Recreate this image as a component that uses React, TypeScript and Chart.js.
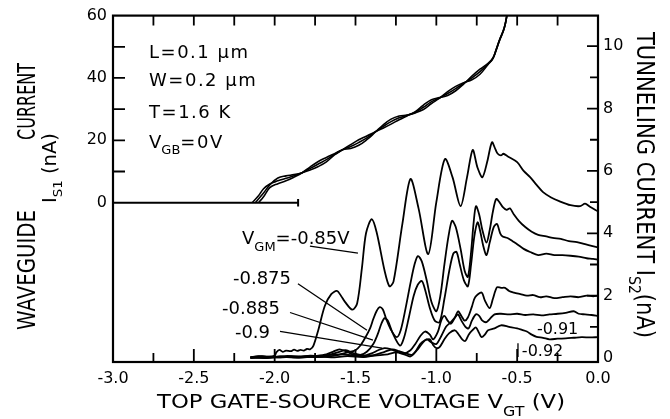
import React, { useEffect, useRef } from 'react';
import { Chart, registerables } from 'chart.js';

Chart.register(...registerables);

const FONT = 'DejaVu Sans';

// ---------- tick values ----------
const leftTickValues = [0, 20, 40, 60];
const rightTickValues = [0, 2, 4, 6, 8, 10];
const xTickMarks = [-2.75, -2.5, -2.25, -2, -1.75, -1.5, -1.25, -1, -0.75, -0.5, -0.25];
const leftTickMarks = [10, 20, 30, 40, 50];
const rightTickMarks = [1, 2, 3, 4, 5, 6, 7, 8, 9, 10];

// ---------- waveguide current I_S1 (left axis, nA) ----------
const baselineS1 = [[-3.0, 0], [-1.855, 0]];
const baselineEnd = [[-1.855, -1.2], [-1.855, 1.2]];
const upperV = [-2.07, -2.03, -1.98, -1.93, -1.88, -1.83, -1.78, -1.73, -1.68, -1.63, -1.58, -1.53, -1.48, -1.43, -1.38, -1.33, -1.28, -1.23, -1.18, -1.13, -1.08, -1.03, -0.98, -0.93, -0.88, -0.83, -0.78, -0.73, -0.68, -0.65, -0.63, -0.61, -0.58, -0.56];
const upperStartV = [-2.14, -2.12, -2.1];
const upper1 = [4.4, 6.0, 7.0, 7.8, 8.6, 9.6, 11.0, 12.4, 13.8, 15.5, 17.0, 18.0, 19.3, 20.8, 22.6, 24.4, 26.0, 27.2, 28.0, 29.0, 30.6, 32.4, 33.6, 35.0, 36.6, 38.3, 40.0, 42.0, 44.5, 46.3, 49.0, 52.0, 56.0, 61.0];
const upper2 = [3.0, 5.7, 7.9, 8.6, 9.0, 9.6, 10.5, 11.6, 13.1, 15.3, 17.0, 18.6, 20.2, 21.4, 22.7, 23.9, 25.2, 26.6, 27.9, 29.2, 31.3, 33.0, 33.7, 34.4, 35.9, 38.1, 40.6, 42.8, 44.7, 46.4, 49.1, 52.1, 56.1, 61.0];
const upper3 = [1.8, 4.8, 6.1, 7.0, 8.2, 9.6, 11.5, 13.2, 14.5, 15.7, 17.0, 17.4, 18.4, 20.2, 22.5, 24.9, 26.8, 27.8, 28.1, 28.8, 29.9, 31.8, 33.5, 35.6, 37.3, 38.5, 39.4, 41.2, 44.3, 46.2, 48.9, 51.9, 55.9, 61.0];

// ---------- tunneling current I_S2 (right axis, nA), [V_GT, I] ----------
const curveVgm085 = [[-2.15, 0.02], [-2.1, 0.06], [-2.05, 0.04], [-2.0, 0.08], [-1.99, 0.18], [-1.97, 0.26], [-1.95, 0.2], [-1.93, 0.24], [-1.9, 0.22], [-1.88, 0.27], [-1.86, 0.23], [-1.84, 0.26], [-1.82, 0.24], [-1.8, 0.29], [-1.78, 0.28], [-1.76, 0.4], [-1.73, 0.9], [-1.69, 1.67], [-1.65, 2.05], [-1.615, 2.15], [-1.59, 2.0], [-1.565, 1.8], [-1.52, 1.55], [-1.49, 1.75], [-1.46, 2.9], [-1.435, 4.0], [-1.4, 4.45], [-1.37, 4.05], [-1.32, 2.8], [-1.29, 2.3], [-1.265, 2.45], [-1.21, 4.3], [-1.16, 5.74], [-1.11, 4.8], [-1.05, 3.33], [-1.0, 5.0], [-0.947, 6.38], [-0.9, 5.8], [-0.85, 4.87], [-0.81, 5.8], [-0.775, 6.67], [-0.745, 6.1], [-0.715, 5.8], [-0.685, 6.3], [-0.656, 6.92], [-0.635, 6.7], [-0.62, 6.55], [-0.6, 6.5], [-0.585, 6.55], [-0.56, 6.47], [-0.5, 6.28], [-0.46, 6.0], [-0.42, 5.8], [-0.38, 5.55], [-0.34, 5.32], [-0.29, 5.15], [-0.24, 5.03], [-0.17, 4.9], [-0.11, 4.87], [-0.08, 4.95], [-0.05, 4.85], [0.0, 4.7]];
const curveVgm0875 = [[-2.15, 0.02], [-2.08, 0.06], [-2.0, 0.03], [-1.92, 0.07], [-1.85, 0.04], [-1.78, 0.08], [-1.72, 0.06], [-1.66, 0.1], [-1.6, 0.12], [-1.55, 0.18], [-1.5, 0.25], [-1.47, 0.4], [-1.44, 0.65], [-1.41, 0.95], [-1.39, 1.25], [-1.37, 1.5], [-1.35, 1.63], [-1.33, 1.55], [-1.31, 1.25], [-1.28, 0.9], [-1.245, 0.67], [-1.22, 0.9], [-1.19, 1.6], [-1.16, 2.4], [-1.135, 3.0], [-1.114, 3.27], [-1.09, 3.1], [-1.06, 2.5], [-1.03, 1.8], [-1.0, 1.5], [-0.975, 2.0], [-0.95, 3.0], [-0.925, 3.9], [-0.903, 4.4], [-0.88, 4.2], [-0.85, 3.5], [-0.825, 2.8], [-0.805, 2.6], [-0.785, 3.4], [-0.77, 4.3], [-0.755, 4.87], [-0.735, 4.6], [-0.715, 4.1], [-0.69, 3.7], [-0.67, 4.1], [-0.65, 4.7], [-0.63, 5.1], [-0.61, 5.0], [-0.59, 4.85], [-0.565, 4.75], [-0.545, 4.8], [-0.52, 4.6], [-0.49, 4.4], [-0.45, 4.2], [-0.41, 4.05], [-0.37, 3.95], [-0.32, 3.9], [-0.28, 3.85], [-0.23, 3.82], [-0.18, 3.75], [-0.13, 3.72], [-0.08, 3.65], [-0.04, 3.6], [0.0, 3.55]];
const curveVgm0885 = [[-2.15, 0.0], [-2.07, 0.04], [-1.98, 0.02], [-1.9, 0.06], [-1.82, 0.03], [-1.74, 0.07], [-1.68, 0.12], [-1.64, 0.2], [-1.6, 0.28], [-1.56, 0.22], [-1.52, 0.12], [-1.47, 0.1], [-1.43, 0.2], [-1.39, 0.45], [-1.36, 0.8], [-1.34, 1.1], [-1.32, 1.28], [-1.3, 1.2], [-1.27, 0.8], [-1.225, 0.4], [-1.2, 0.65], [-1.17, 1.3], [-1.14, 2.0], [-1.115, 2.35], [-1.09, 2.47], [-1.07, 2.2], [-1.04, 1.6], [-1.01, 1.2], [-0.98, 1.15], [-0.95, 1.9], [-0.92, 2.8], [-0.895, 3.35], [-0.875, 3.4], [-0.855, 3.0], [-0.83, 2.5], [-0.805, 2.3], [-0.785, 3.0], [-0.765, 3.9], [-0.745, 4.35], [-0.73, 4.1], [-0.71, 3.6], [-0.69, 3.3], [-0.67, 3.7], [-0.645, 4.2], [-0.625, 4.3], [-0.605, 4.0], [-0.59, 3.9], [-0.56, 3.85], [-0.53, 3.75], [-0.5, 3.65], [-0.46, 3.5], [-0.42, 3.4], [-0.37, 3.3], [-0.32, 3.35], [-0.27, 3.3], [-0.22, 3.3], [-0.17, 3.28], [-0.12, 3.25], [-0.07, 3.2], [-0.03, 3.18], [0.0, 3.15]];
const curveVgm09 = [[-2.15, 0.03], [-2.06, 0.0], [-1.97, 0.05], [-1.88, 0.02], [-1.8, 0.06], [-1.72, 0.04], [-1.66, 0.1], [-1.6, 0.2], [-1.56, 0.25], [-1.51, 0.15], [-1.45, 0.08], [-1.4, 0.15], [-1.36, 0.25], [-1.32, 0.32], [-1.28, 0.28], [-1.24, 0.2], [-1.2, 0.15], [-1.16, 0.25], [-1.13, 0.45], [-1.1, 0.7], [-1.07, 0.85], [-1.04, 0.75], [-1.02, 0.6], [-0.99, 0.85], [-0.97, 1.2], [-0.95, 1.35], [-0.93, 1.2], [-0.91, 1.1], [-0.885, 1.3], [-0.866, 1.5], [-0.845, 1.35], [-0.825, 1.2], [-0.805, 1.3], [-0.78, 1.65], [-0.76, 1.95], [-0.72, 2.1], [-0.7, 1.85], [-0.67, 1.6], [-0.65, 1.9], [-0.625, 2.27], [-0.6, 2.25], [-0.575, 2.25], [-0.55, 2.15], [-0.52, 2.1], [-0.48, 2.05], [-0.44, 2.0], [-0.4, 2.02], [-0.36, 1.95], [-0.32, 1.98], [-0.27, 1.92], [-0.22, 1.95], [-0.17, 1.98], [-0.12, 1.95], [-0.07, 2.0], [-0.03, 1.98], [0.0, 2.0]];
const curveVgm091 = [[-2.15, 0.0], [-2.05, 0.04], [-1.95, 0.02], [-1.85, 0.05], [-1.75, 0.03], [-1.65, 0.06], [-1.58, 0.12], [-1.52, 0.08], [-1.45, 0.05], [-1.38, 0.1], [-1.32, 0.2], [-1.27, 0.28], [-1.23, 0.22], [-1.19, 0.15], [-1.15, 0.1], [-1.12, 0.25], [-1.09, 0.45], [-1.06, 0.6], [-1.03, 0.5], [-1.0, 0.45], [-0.97, 0.7], [-0.94, 1.0], [-0.91, 1.15], [-0.885, 1.3], [-0.866, 1.4], [-0.845, 1.2], [-0.82, 1.0], [-0.8, 0.95], [-0.78, 1.2], [-0.755, 1.4], [-0.735, 1.35], [-0.715, 1.2], [-0.69, 1.15], [-0.67, 1.25], [-0.64, 1.4], [-0.6, 1.42], [-0.55, 1.4], [-0.5, 1.42], [-0.45, 1.38], [-0.4, 1.4], [-0.35, 1.37], [-0.3, 1.4], [-0.25, 1.42], [-0.2, 1.45], [-0.15, 1.5], [-0.12, 1.42], [-0.08, 1.4], [-0.04, 1.38], [0.0, 1.35]];
const curveVgm092 = [[-2.15, 0.02], [-2.05, 0.0], [-1.95, 0.04], [-1.85, 0.01], [-1.75, 0.05], [-1.65, 0.02], [-1.55, 0.06], [-1.45, 0.03], [-1.38, 0.08], [-1.3, 0.12], [-1.25, 0.18], [-1.2, 0.12], [-1.16, 0.05], [-1.13, 0.2], [-1.1, 0.45], [-1.07, 0.57], [-1.04, 0.6], [-1.02, 0.42], [-1.0, 0.32], [-0.98, 0.35], [-0.95, 0.6], [-0.92, 0.8], [-0.885, 0.89], [-0.865, 0.78], [-0.84, 0.6], [-0.82, 0.55], [-0.8, 0.75], [-0.775, 0.9], [-0.755, 0.98], [-0.735, 0.8], [-0.72, 0.67], [-0.7, 0.75], [-0.68, 0.89], [-0.64, 0.95], [-0.6, 1.05], [-0.55, 1.0], [-0.5, 0.95], [-0.47, 0.9], [-0.44, 0.85], [-0.41, 0.75], [-0.38, 0.68], [-0.34, 0.65], [-0.3, 0.6], [-0.25, 0.62], [-0.2, 0.63], [-0.15, 0.65], [-0.1, 0.67], [-0.05, 0.66], [0.0, 0.67]];

// ---------- annotation layout (data coordinates) ----------
type Seg = { t: string; size: number; dy?: number; sp?: number };
const infoLines: { segs: Seg[]; at: [number, number] }[] = [
  { segs: [{ t: 'L=0.1 μm', size: 18, sp: 1.5 }], at: [-2.777, 48.4] },
  { segs: [{ t: 'W=0.2 μm', size: 18, sp: 1.5 }], at: [-2.777, 39.5] },
  { segs: [{ t: 'T=1.6 K', size: 18, sp: 1.5 }], at: [-2.777, 29.4] },
  { segs: [{ t: 'V', size: 18 }, { t: 'GB', size: 13, dy: 6 }, { t: '=0V', size: 18, sp: 1.5 }], at: [-2.777, 19.5] },
];
const curveLabels: { segs: Seg[]; at: [number, number] }[] = [
  { segs: [{ t: 'V', size: 18 }, { t: 'GM', size: 13, dy: 7 }, { t: '=-0.85V', size: 18 }], at: [-2.202, 3.857] },
  { segs: [{ t: '-0.875', size: 18 }], at: [-2.258, 2.587] },
  { segs: [{ t: '-0.885', size: 18 }], at: [-2.326, 1.635] },
  { segs: [{ t: '-0.9', size: 18 }], at: [-2.246, 0.841] },
  { segs: [{ t: '-0.91', size: 16 }], at: [-0.378, 0.968] },
  { segs: [{ t: '-0.92', size: 16 }], at: [-0.471, 0.254] },
];
const leaderLines: [number, number, number, number][] = [
  [-1.782, 3.587, -1.485, 3.365],
  [-1.856, 2.381, -1.429, 0.889],
  [-1.905, 1.46, -1.392, 0.571],
  [-1.967, 0.857, -1.336, 0.317],
  [-0.495, 0.476, -0.495, 0.032],
];

function drawRich(ctx: CanvasRenderingContext2D, segs: Seg[], x: number, y: number, angle: number, targetW?: number) {
  ctx.save();
  ctx.translate(x, y);
  ctx.rotate(angle);
  let total = 0;
  const widths = segs.map((s) => {
    ctx.font = `${s.size}px "${FONT}"`;
    (ctx as any).letterSpacing = (s.sp || 0) + 'px';
    const w = ctx.measureText(s.t).width;
    total += w;
    return w;
  });
  const sx = targetW ? targetW / total : 1;
  ctx.scale(sx, 1);
  const base = segs[0].size * 0.365;
  let cx = 0;
  ctx.fillStyle = '#000';
  ctx.textBaseline = 'alphabetic';
  ctx.textAlign = 'left';
  segs.forEach((s, i) => {
    ctx.font = `${s.size}px "${FONT}"`;
    (ctx as any).letterSpacing = (s.sp || 0) + 'px';
    ctx.fillText(s.t, cx, base + (s.dy || 0));
    cx += widths[i];
  });
  ctx.restore();
}

const overlay = {
  id: 'overlay',
  afterDraw(chart: any) {
    const { ctx, chartArea: a, scales } = chart;
    const sx = scales.x, yL = scales.yL, yR = scales.yR;
    ctx.save();
    ctx.strokeStyle = '#000';
    ctx.lineWidth = 2.2;
    ctx.strokeRect(a.left, a.top, a.right - a.left, a.bottom - a.top);
    ctx.lineWidth = 1.8;
    ctx.beginPath();
    xTickMarks.forEach((v) => {
      const px = sx.getPixelForValue(v);
      const major = Math.abs(v * 2 - Math.round(v * 2)) < 1e-6;
      ctx.moveTo(px, a.bottom);
      ctx.lineTo(px, a.bottom - (major ? 13 : 9));
      ctx.moveTo(px, a.top);
      ctx.lineTo(px, a.top + 10);
    });
    leftTickMarks.forEach((v) => {
      const py = yL.getPixelForValue(v);
      ctx.moveTo(a.left, py);
      ctx.lineTo(a.left + 12, py);
    });
    rightTickMarks.forEach((v) => {
      const py = yR.getPixelForValue(v);
      ctx.moveTo(a.right, py);
      ctx.lineTo(a.right - (v % 2 === 0 ? 11 : 8), py);
    });
    ctx.stroke();

    // leader lines
    ctx.lineWidth = 1.3;
    ctx.beginPath();
    leaderLines.forEach(([x1, y1, x2, y2]) => {
      ctx.moveTo(sx.getPixelForValue(x1), yR.getPixelForValue(y1));
      ctx.lineTo(sx.getPixelForValue(x2), yR.getPixelForValue(y2));
    });
    ctx.stroke();
    ctx.restore();

    infoLines.forEach((l) => drawRich(ctx, l.segs, sx.getPixelForValue(l.at[0]), yL.getPixelForValue(l.at[1]), 0));
    curveLabels.forEach((l) => drawRich(ctx, l.segs, sx.getPixelForValue(l.at[0]), yR.getPixelForValue(l.at[1]), 0));

    // axis titles
    drawRich(ctx, [{ t: 'TOP GATE-SOURCE VOLTAGE V', size: 20 }, { t: 'GT', size: 14, dy: 8 }, { t: ' (V)', size: 20 }], a.left + 44, a.bottom + 38.5, 0, 408);
    drawRich(ctx, [{ t: 'WAVEGUIDE', size: 24 }], 26, 330, -Math.PI / 2, 120);
    drawRich(ctx, [{ t: 'CURRENT', size: 24 }], 26, 140, -Math.PI / 2, 77);
    drawRich(ctx, [{ t: 'I', size: 19 }, { t: 'S1', size: 13, dy: 6 }, { t: ' (nA)', size: 19 }], 49, 203, -Math.PI / 2, 70);
    drawRich(ctx, [{ t: 'TUNNELING CURRENT I', size: 24 }, { t: 'S2', size: 16, dy: 8 }, { t: '(nA)', size: 24 }], 646, 32, Math.PI / 2, 306);
  },
};

const toPts = (arr: number[][]) => arr.map(([x, y]) => ({ x, y }));
const upperPts = (startV: number, lead: number[][], vals: number[]) => [
  { x: startV, y: 0 },
  ...toPts(lead),
  ...upperV.map((v, i) => ({ x: v, y: vals[i] })),
];

export default function App() {
  const ref = useRef<HTMLCanvasElement>(null);
  useEffect(() => {
    document.body.style.margin = '0';
    const canvas = ref.current!;
    const line = (data: any[], axis: string, extra: any = {}) => ({
      data,
      yAxisID: axis,
      borderColor: '#000',
      borderWidth: 1.8,
      pointRadius: 0,
      fill: false,
      tension: 0.3,
      ...extra,
    });
    const tickFont = { family: FONT, size: 16 };
    const chart = new Chart(canvas, {
      type: 'line',
      data: {
        datasets: [
          line(toPts(baselineS1), 'yL', { borderWidth: 2, tension: 0 }),
          line(toPts(baselineEnd), 'yL', { borderWidth: 2, tension: 0 }),
          line(upperPts(upperStartV[0], [[-2.1, 2.2]], upper1), 'yL', { tension: 0.4, borderWidth: 1.6 }),
          line(upperPts(upperStartV[1], [], upper2), 'yL', { tension: 0.4, borderWidth: 1.6 }),
          line(upperPts(upperStartV[2], [], upper3), 'yL', { tension: 0.4, borderWidth: 1.6 }),
          line(toPts(curveVgm085), 'yR'),
          line(toPts(curveVgm0875), 'yR'),
          line(toPts(curveVgm0885), 'yR'),
          line(toPts(curveVgm09), 'yR'),
          line(toPts(curveVgm091), 'yR'),
          line(toPts(curveVgm092), 'yR'),
        ],
      },
      options: {
        responsive: false,
        animation: false,
        events: [],
        layout: { padding: { top: 12, left: 0, right: 0, bottom: 0 } },
        plugins: { legend: { display: false }, tooltip: { enabled: false } },
        scales: {
          x: {
            type: 'linear',
            position: 'bottom',
            min: -3,
            max: 0,
            ticks: {
              stepSize: 0.5,
              autoSkip: false,
              maxRotation: 0,
              padding: 7,
              color: '#000',
              font: tickFont,
              callback: (v: any) => Number(v).toFixed(1),
            },
            grid: { display: false, drawTicks: false },
            border: { display: false },
            afterFit: (s: any) => { s.height = 57; },
          },
          yL: {
            type: 'linear',
            position: 'left',
            min: -51.1,
            max: 60,
            afterBuildTicks: (s: any) => { s.ticks = leftTickValues.map((value) => ({ value })); },
            ticks: { padding: 6, color: '#000', font: tickFont, callback: (v: any) => String(v) },
            grid: { display: false, drawTicks: false },
            border: { display: false },
            afterFit: (s: any) => { s.width = 113; },
          },
          yR: {
            type: 'linear',
            position: 'right',
            min: -0.127,
            max: 10.98,
            afterBuildTicks: (s: any) => { s.ticks = rightTickValues.map((value) => ({ value })); },
            ticks: { padding: 5, color: '#000', font: tickFont, callback: (v: any) => String(v) },
            grid: { display: false, drawTicks: false },
            border: { display: false },
            afterFit: (s: any) => { s.width = 72; },
          },
        },
      } as any,
      plugins: [overlay],
    });
    return () => chart.destroy();
  }, []);
  return <canvas ref={ref} width={670} height={419} style={{ display: 'block' }} />;
}
